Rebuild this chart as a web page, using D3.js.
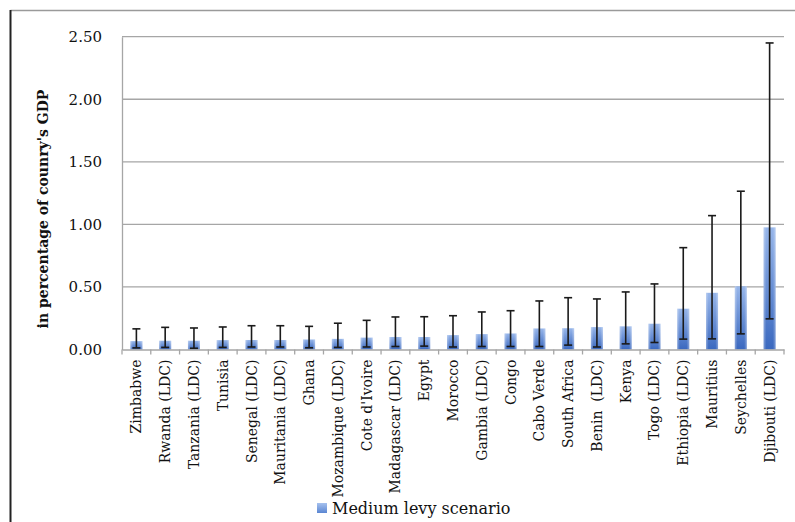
<!DOCTYPE html>
<html>
<head>
<meta charset="utf-8">
<script src="https://cdn.jsdelivr.net/npm/d3@7"></script>
<style>
  html, body { margin: 0; padding: 0; background: #fff; }
  svg { display: block; }
</style>
</head>
<body>
<svg id="chart" width="795" height="522"></svg>
<script>
const categories = ["Zimbabwe", "Rwanda (LDC)", "Tanzania (LDC)", "Tunisia", "Senegal (LDC)", "Mauritania (LDC)", "Ghana", "Mozambique (LDC)", "Cote d'Ivoire", "Madagascar (LDC)", "Egypt", "Morocco", "Gambia (LDC)", "Congo", "Cabo Verde", "South Africa", "Benin  (LDC)", "Kenya", "Togo (LDC)", "Ethiopia (LDC)", "Mauritius", "Seychelles", "Djibouti (LDC)"];
const values = [0.067, 0.070, 0.070, 0.075, 0.076, 0.076, 0.080, 0.085, 0.095, 0.100, 0.100, 0.115, 0.123, 0.128, 0.168, 0.170, 0.179, 0.185, 0.206, 0.326, 0.453, 0.505, 0.976];
const errHigh = [0.165, 0.177, 0.172, 0.180, 0.190, 0.190, 0.185, 0.210, 0.233, 0.260, 0.262, 0.270, 0.300, 0.310, 0.388, 0.414, 0.404, 0.460, 0.524, 0.814, 1.070, 1.265, 2.450];
const errLow = [0.013, 0.017, 0.010, 0.017, 0.020, 0.020, 0.014, 0.017, 0.020, 0.024, 0.027, 0.020, 0.024, 0.024, 0.024, 0.035, 0.020, 0.045, 0.056, 0.083, 0.085, 0.125, 0.245];
const yTicks = [0, 0.5, 1.0, 1.5, 2.0, 2.5];
const seriesName = "Medium levy scenario";

(function () {
const svg = d3.select("#chart");
const pLeft = 122, pRight = 784, pTop = 36.7, pBottom = 349.5;

const x = d3.scaleBand().domain(categories).range([pLeft, pRight]).paddingInner(0).paddingOuter(0);
const y = d3.scaleLinear().domain([0, 2.5]).range([pBottom, pTop]);

const defs = svg.append("defs");
const grad = defs.append("linearGradient").attr("id", "barGrad")
  .attr("x1", 0).attr("y1", 0).attr("x2", 0).attr("y2", 1);
grad.append("stop").attr("offset", "0%").attr("stop-color", "#97b6ea");
grad.append("stop").attr("offset", "100%").attr("stop-color", "#3a68bf");
const hgrad = defs.append("linearGradient").attr("id", "edgeGrad")
  .attr("x1", 0).attr("y1", 0).attr("x2", 1).attr("y2", 0);
hgrad.append("stop").attr("offset", "0%").attr("stop-color", "#fff").attr("stop-opacity", 0.35);
hgrad.append("stop").attr("offset", "22%").attr("stop-color", "#fff").attr("stop-opacity", 0);
hgrad.append("stop").attr("offset", "78%").attr("stop-color", "#fff").attr("stop-opacity", 0);
hgrad.append("stop").attr("offset", "100%").attr("stop-color", "#fff").attr("stop-opacity", 0.35);
const lgrad = defs.append("linearGradient").attr("id", "legGrad")
  .attr("x1", 0).attr("y1", 0).attr("x2", 0).attr("y2", 1);
lgrad.append("stop").attr("offset", "0%").attr("stop-color", "#a6c1ee");
lgrad.append("stop").attr("offset", "100%").attr("stop-color", "#5a86d2");

// frame
svg.append("line").attr("x1", 10.5).attr("x2", 795).attr("y1", 10.5).attr("y2", 10.5)
  .attr("stroke", "#9a9a9a").attr("stroke-width", 1.5);
svg.append("line").attr("x1", 10.5).attr("x2", 10.5).attr("y1", 10).attr("y2", 522)
  .attr("stroke", "#222").attr("stroke-width", 2);

// gridlines
svg.append("g").selectAll("line").data(yTicks.filter(d => d > 0)).join("line")
  .attr("x1", pLeft).attr("x2", pRight)
  .attr("y1", d => y(d)).attr("y2", d => y(d))
  .attr("stroke", "#a6a6a6").attr("stroke-width", 1.3);

// y axis
const yAxis = d3.axisLeft(y).tickValues(yTicks).tickFormat(d3.format(".2f")).tickSize(0).tickPadding(20);
const gy = svg.append("g").attr("transform", `translate(${pLeft},0)`).call(yAxis);
gy.select(".domain").attr("stroke", "#a6a6a6").attr("stroke-width", 1.3);
gy.selectAll("text").attr("font-family", "DejaVu Serif").attr("font-size", 15).attr("fill", "#111");

// bars
const bw = 12;
const cx = d => x(d) + x.bandwidth() / 2;
const bars = svg.append("g");
bars.selectAll("rect.bar").data(categories).join("rect").attr("class", "bar")
  .attr("x", d => cx(d) - bw / 2)
  .attr("width", bw)
  .attr("y", (d, i) => y(values[i]))
  .attr("height", (d, i) => y(0) - y(values[i]))
  .attr("fill", "url(#barGrad)");
bars.selectAll("rect.edge").data(categories).join("rect").attr("class", "edge")
  .attr("x", d => cx(d) - bw / 2)
  .attr("width", bw)
  .attr("y", (d, i) => y(values[i]))
  .attr("height", (d, i) => y(0) - y(values[i]))
  .attr("fill", "url(#edgeGrad)");

// x axis
const xAxis = d3.axisBottom(x).tickSize(0).tickFormat("");
const gx = svg.append("g").attr("transform", `translate(0,${pBottom})`).call(xAxis);
gx.select(".domain").attr("stroke", "#a6a6a6").attr("stroke-width", 1.3);
const bounds = categories.map(c => x(c)).concat([pRight]);
gx.selectAll("line.bt").data(bounds).join("line").attr("class", "bt")
  .attr("x1", d => d).attr("x2", d => d).attr("y1", 0).attr("y2", 5)
  .attr("stroke", "#a6a6a6").attr("stroke-width", 1.3);

// error bars
const eb = svg.append("g").attr("stroke", "#1a1a1a").attr("stroke-width", 1.6);
eb.selectAll("line.v").data(categories).join("line").attr("class", "v")
  .attr("x1", cx).attr("x2", cx)
  .attr("y1", (d, i) => y(errLow[i])).attr("y2", (d, i) => y(errHigh[i]));
eb.selectAll("line.t").data(categories).join("line").attr("class", "t")
  .attr("x1", d => cx(d) - 4).attr("x2", d => cx(d) + 4)
  .attr("y1", (d, i) => y(errHigh[i])).attr("y2", (d, i) => y(errHigh[i]));
eb.selectAll("line.b").data(categories).join("line").attr("class", "b")
  .attr("x1", d => cx(d) - 4).attr("x2", d => cx(d) + 4)
  .attr("y1", (d, i) => y(errLow[i])).attr("y2", (d, i) => y(errLow[i]));

// x labels
svg.append("g").selectAll("text").data(categories).join("text")
  .attr("transform", d => `translate(${cx(d) + 5},${pBottom + 10}) rotate(-90)`)
  .attr("text-anchor", "end")
  .attr("font-family", "DejaVu Serif").attr("font-size", 14).attr("fill", "#111")
  .style("white-space", "pre")
  .text(d => d);

// y title
svg.append("text")
  .attr("transform", `translate(48,209) rotate(-90)`)
  .attr("text-anchor", "middle")
  .attr("font-family", "DejaVu Serif").attr("font-weight", "bold").attr("font-size", 14).attr("fill", "#111")
  .text("in percentage of counry's GDP");

// legend
const lg = svg.append("g").attr("transform", "translate(317,503)");
lg.append("rect").attr("width", 10).attr("height", 10).attr("fill", "url(#legGrad)");
lg.append("text").attr("x", 15).attr("y", 11).attr("font-family", "DejaVu Serif").attr("font-size", 16).attr("fill", "#111")
  .text(seriesName);
})();
</script>
</body>
</html>
